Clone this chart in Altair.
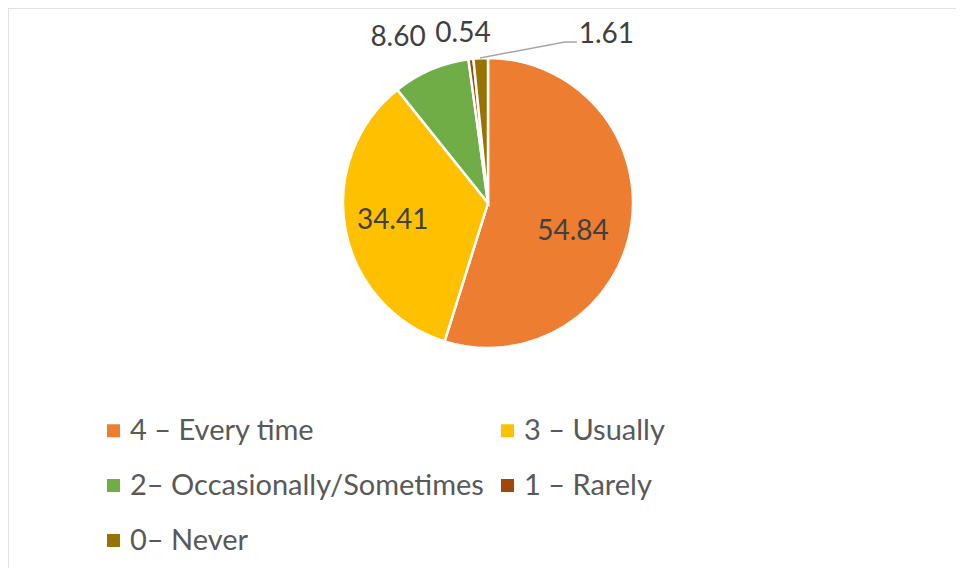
import altair as alt
import pandas as pd

categories = ["4 – Every time", "3 – Usually", "2– Occasionally/Sometimes", "1 – Rarely", "0– Never"]
values = [54.84, 34.41, 8.60, 0.54, 1.61]
labels = ["54.84", "34.41", "8.60", "0.54", "1.61"]
colors = ["#ED7D31", "#FFC000", "#70AD47", "#9E480E", "#997300"]

df = pd.DataFrame({"cat": categories, "value": values, "label": labels, "idx": list(range(len(values)))})

W, H = 948, 560
CX, CY = 480, 195
FONT = "Lato"
TXT = "#404040"

base = alt.Chart(df)

arc = base.mark_arc(outerRadius=145, stroke="white", strokeWidth=2.5).encode(
    theta=alt.Theta("value:Q", stack=True),
    color=alt.Color(
        "cat:N",
        scale=alt.Scale(domain=categories, range=colors),
        legend=alt.Legend(
            title=None, orient="none", legendX=91, legendY=408, columns=2,
            direction="horizontal", symbolType="square", symbolSize=169,
            symbolStrokeWidth=0, labelFont=FONT, labelFontSize=29,
            labelColor="#595959", labelOffset=2, rowPadding=25,
            columnPadding=9, padding=0, labelLimit=800,
        ),
    ),
    order=alt.Order("idx:Q"),
    x=alt.value(CX),
    y=alt.value(CY),
)

lab_base = base.transform_window(
    cum="sum(value)", sort=[alt.SortField("idx")], frame=[None, 0]
).transform_joinaggregate(total="sum(value)").transform_calculate(
    mid="(datum.cum - datum.value/2) / datum.total * 2 * PI"
)

# (idx, radius, dx, dy)
placements = [(0, 90, -4, 15), (1, 97, 0, 0), (2, 180, -19, 0), (3, 170, -5, 0), (4, 170, 127, 2)]
label_layers = []
for i, r, dx, dy in placements:
    label_layers.append(
        lab_base.transform_filter(alt.datum.idx == i).mark_text(
            radius=r, dx=dx, dy=dy, font=FONT, fontSize=28, color=TXT
        ).encode(
            theta=alt.Theta("mid:Q", scale=None, stack=False),
            text="label:N",
            x=alt.value(CX),
            y=alt.value(CY),
        )
    )

one = base.transform_filter(alt.datum.idx == 0)
leader1 = one.mark_rule(color="#a6a6a6", strokeWidth=1.5).encode(
    x=alt.value(472), y=alt.value(50), x2=alt.value(557), y2=alt.value(34)
)
leader2 = one.mark_rule(color="#a6a6a6", strokeWidth=1.5).encode(
    x=alt.value(557), y=alt.value(34), x2=alt.value(569), y2=alt.value(34)
)
border_top = one.mark_rule(color="#d9d9d9", strokeWidth=1.5).encode(
    x=alt.value(0), y=alt.value(0), x2=alt.value(W), y2=alt.value(0)
)
border_left = one.mark_rule(color="#d9d9d9", strokeWidth=1.5).encode(
    x=alt.value(0), y=alt.value(0), x2=alt.value(0), y2=alt.value(H)
)

chart = alt.layer(border_top, border_left, arc, *label_layers, leader1, leader2).properties(
    width=W, height=H, padding=0, autosize="none", background="white"
).configure_view(stroke=None)

chart.save("out.html", embed_options={"renderer": "svg", "actions": False})
